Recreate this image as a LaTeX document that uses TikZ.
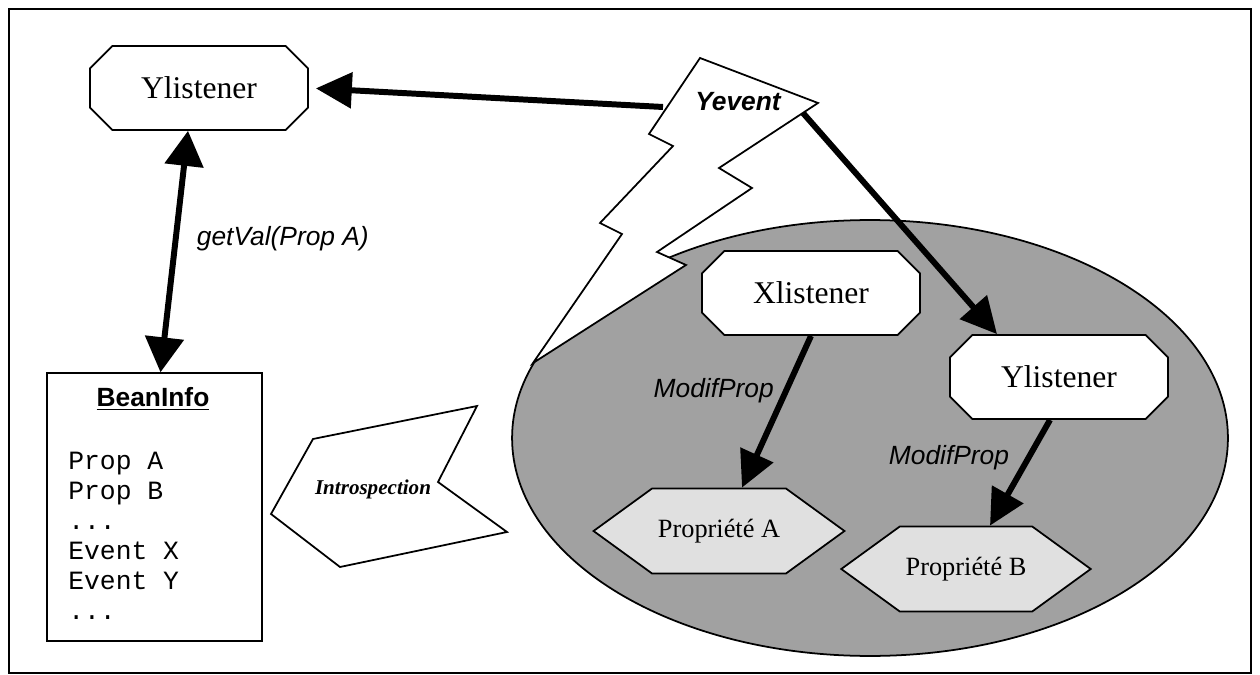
\documentclass[tikz,border=0pt]{standalone}
\usepackage{fontspec}
\setmainfont{Liberation Serif}
\setsansfont{Liberation Sans}
\setmonofont{Liberation Mono}
\usetikzlibrary{arrows.meta,positioning,shapes.misc,shapes.symbols,calc}

\begin{document}
\begin{tikzpicture}[x=0.02cm,y=-0.02cm,
  listener/.style={draw,line width=1pt,fill=white,chamfered rectangle,chamfered rectangle xsep=0.46cm,minimum width=4.36cm,minimum height=1.68cm,font=\fontsize{18}{20}\selectfont},
  propbox/.style={draw,line width=1pt,fill=black!12,signal,signal to=west and east,signal pointer angle=72,minimum width=4.9cm,minimum height=1.7cm,font=\fontsize{15}{17}\selectfont},
  fat/.style={line width=3.4pt,-{Triangle[length=0.72cm,width=0.7cm]}},
  lbl/.style={font=\sffamily\itshape\fontsize{15}{17}\selectfont}]
\useasboundingbox (0,0) rectangle (1260,675);
\draw[line width=1pt] (9,9) rectangle (1251,673);
% the bean
\draw[line width=1pt,fill=black!37] (870,438) ellipse [x radius=7.16cm,y radius=4.36cm];
\node[listener] (ylisA) at (199,88) {Ylistener};
\node[listener] (xlis) at (811,293) {Xlistener};
\node[listener] (ylisB) at (1059,377) {Ylistener};
\node[propbox] (propA) at (719,531) {Propriété A};
\node[propbox] (propB) at (966,569) {Propriété B};
% bean info
\node[draw,line width=0.8pt,minimum width=4.3cm,minimum height=5.36cm] (bean) at (154.5,507) {};
\node[font=\sffamily\bfseries\fontsize{15}{17}\selectfont] (beantitle) at (153,399) {\underline{BeanInfo}};
\node[anchor=north west,inner sep=0pt,align=left,font=\ttfamily\fontsize{15}{17.07}\selectfont] (beanlist) at (68,452) {Prop A\\Prop B\\...\\Event X\\Event Y\\...};
\coordinate (boltW) at (663,107);
\coordinate (boltSE) at (803,113);
\draw[fat,shorten >=0.14cm] (boltW) -- (ylisA.east);
\draw[fat] (boltSE) -- ($(ylisB.north)+(-62,0)$);
\draw[fat] (xlis.south) -- ($(propA.north)+(23,0)$) node[lbl,pos=0.36,left=2pt] (modA) {ModifProp};
\draw[fat] ($(ylisB.south)+(-9,0)$) -- ($(propB.north)+(24,0)$) node[lbl,pos=0.36,left=6pt] (modB) {ModifProp};
\draw[line width=3.4pt,{Triangle[length=0.7cm,width=0.76cm]}-{Triangle[length=0.7cm,width=0.76cm]}] ($(bean.north)+(6,0)$) -- ($(ylisA.south)+(-11,0)$) node[lbl,pos=0.555,right=7pt] (getval) {getVal(Prop A)};
% lightning
\draw[line width=1pt,fill=white] (700,58) -- (818,103) -- (719,168) -- (752,188) -- (657,252) -- (686,265) -- (533,363) -- (622,234) -- (600,223) -- (673,146) -- (649,134) -- cycle;
\node[font=\sffamily\bfseries\itshape\fontsize{15}{17}\selectfont] (yevent) at (738,102) {Yevent};
\draw[line width=1pt,fill=white] (313,439) -- (477,406) -- (438,482) -- (507,532) -- (340,567) -- (271,514) -- cycle;
\node[font=\bfseries\itshape\fontsize{12}{14}\selectfont] (intro) at (373,489) {Introspection};
\end{tikzpicture}
\end{document}
